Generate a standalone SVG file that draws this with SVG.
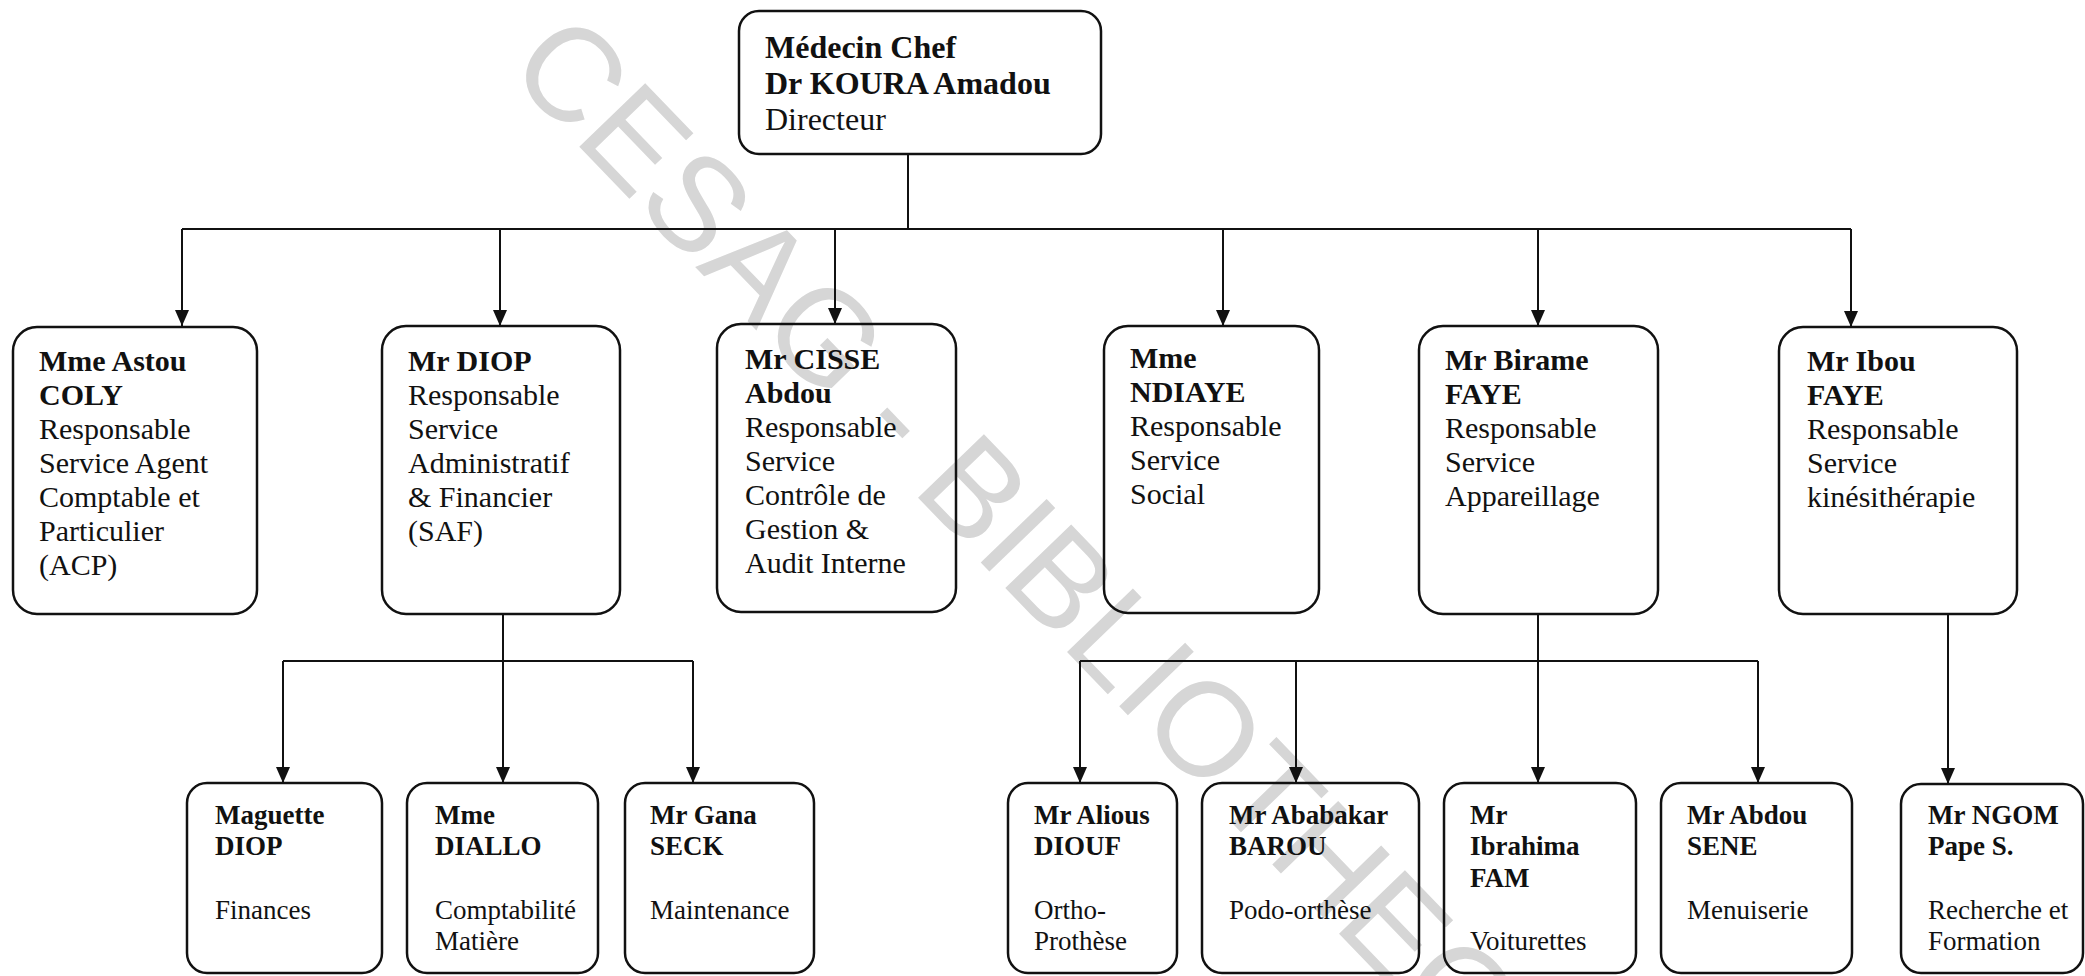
<svg xmlns="http://www.w3.org/2000/svg" width="2085" height="976" viewBox="0 0 2085 976">
<style>
.bg{fill:#ffffff}
.box{fill:none;stroke:#111;stroke-width:2.5}
.ln{fill:none;stroke:#111;stroke-width:2}
.arr{fill:none;stroke:#111;stroke-width:2;marker-end:url(#ah)}
text{font-family:"Liberation Serif","Times New Roman",serif;fill:#111}
.t1{font-size:32px}
.t2{font-size:30px}
.t3{font-size:27px}
.b{font-weight:bold}
.wm{font-family:"Liberation Sans",Arial,sans-serif;font-size:133px;fill:#d6d6d6}
</style>
<defs>
<marker id="ah" markerUnits="userSpaceOnUse" markerWidth="16" markerHeight="18" refX="16" refY="7" orient="auto" viewBox="0 0 16 14">
<path d="M0,0 L16,7 L0,14 Z" fill="#111"/>
</marker>
</defs>
<rect class="bg" x="0" y="0" width="2085" height="976"/>
<g id="watermark">
<text class="wm" transform="translate(505,70) rotate(46)" x="0" y="0">CESAG - BIBLIOTHEQUE</text>
</g>
<g id="connectors">
<path class="ln" d="M908,154 V229 M182,229 H1851"/>
<path class="arr" d="M182,229 V326"/>
<path class="arr" d="M500,229 V326"/>
<path class="arr" d="M835,229 V324"/>
<path class="arr" d="M1223,229 V326"/>
<path class="arr" d="M1538,229 V326"/>
<path class="arr" d="M1851,229 V327"/>
<path class="ln" d="M503,614 V661 M283,661 H693"/>
<path class="arr" d="M283,661 V783"/>
<path class="arr" d="M503,661 V783"/>
<path class="arr" d="M693,661 V783"/>
<path class="ln" d="M1538,614 V661 M1080,661 H1758"/>
<path class="arr" d="M1080,661 V783"/>
<path class="arr" d="M1296,661 V783"/>
<path class="arr" d="M1538,661 V783"/>
<path class="arr" d="M1758,661 V783"/>
<path class="arr" d="M1948,614 V784"/>
</g>
<g id="n-directeur">
<rect class="box" x="739" y="11" width="362" height="143" rx="20"/>
<text class="t1" x="765"><tspan class="b" x="765" y="58">Médecin Chef</tspan><tspan class="b" x="765" y="94">Dr KOURA Amadou</tspan><tspan x="765" y="130">Directeur</tspan></text>
</g>
<g id="n-acp">
<rect class="box" x="13" y="327" width="244" height="287" rx="24"/>
<text class="t2"><tspan class="b" x="39" y="371">Mme Astou</tspan><tspan class="b" x="39" y="405">COLY</tspan><tspan x="39" y="439">Responsable</tspan><tspan x="39" y="473">Service Agent</tspan><tspan x="39" y="507">Comptable et</tspan><tspan x="39" y="541">Particulier</tspan><tspan x="39" y="575">(ACP)</tspan></text>
</g>
<g id="n-saf">
<rect class="box" x="382" y="326" width="238" height="288" rx="24"/>
<text class="t2"><tspan class="b" x="408" y="371">Mr DIOP</tspan><tspan x="408" y="405">Responsable</tspan><tspan x="408" y="439">Service</tspan><tspan x="408" y="473">Administratif</tspan><tspan x="408" y="507">&amp; Financier</tspan><tspan x="408" y="541">(SAF)</tspan></text>
</g>
<g id="n-cgai">
<rect class="box" x="717" y="324" width="239" height="288" rx="24"/>
<text class="t2"><tspan class="b" x="745" y="369">Mr CISSE</tspan><tspan class="b" x="745" y="403">Abdou</tspan><tspan x="745" y="437">Responsable</tspan><tspan x="745" y="471">Service</tspan><tspan x="745" y="505">Contrôle de</tspan><tspan x="745" y="539">Gestion &amp;</tspan><tspan x="745" y="573">Audit Interne</tspan></text>
</g>
<g id="n-social">
<rect class="box" x="1104" y="326" width="215" height="287" rx="24"/>
<text class="t2"><tspan class="b" x="1130" y="368">Mme</tspan><tspan class="b" x="1130" y="402">NDIAYE</tspan><tspan x="1130" y="436">Responsable</tspan><tspan x="1130" y="470">Service</tspan><tspan x="1130" y="504">Social</tspan></text>
</g>
<g id="n-appareillage">
<rect class="box" x="1419" y="326" width="239" height="288" rx="24"/>
<text class="t2"><tspan class="b" x="1445" y="370">Mr Birame</tspan><tspan class="b" x="1445" y="404">FAYE</tspan><tspan x="1445" y="438">Responsable</tspan><tspan x="1445" y="472">Service</tspan><tspan x="1445" y="506">Appareillage</tspan></text>
</g>
<g id="n-kine">
<rect class="box" x="1779" y="327" width="238" height="287" rx="24"/>
<text class="t2"><tspan class="b" x="1807" y="371">Mr Ibou</tspan><tspan class="b" x="1807" y="405">FAYE</tspan><tspan x="1807" y="439">Responsable</tspan><tspan x="1807" y="473">Service</tspan><tspan x="1807" y="507">kinésithérapie</tspan></text>
</g>
<g id="n-finances">
<rect class="box" x="187" y="783" width="195" height="190" rx="20"/>
<text class="t3"><tspan class="b" x="215" y="824">Maguette</tspan><tspan class="b" x="215" y="855">DIOP</tspan><tspan x="215" y="919">Finances</tspan></text>
</g>
<g id="n-matiere">
<rect class="box" x="407" y="783" width="191" height="190" rx="20"/>
<text class="t3"><tspan class="b" x="435" y="824">Mme</tspan><tspan class="b" x="435" y="855">DIALLO</tspan><tspan x="435" y="919">Comptabilité</tspan><tspan x="435" y="950">Matière</tspan></text>
</g>
<g id="n-maintenance">
<rect class="box" x="625" y="783" width="189" height="190" rx="20"/>
<text class="t3"><tspan class="b" x="650" y="824">Mr Gana</tspan><tspan class="b" x="650" y="855">SECK</tspan><tspan x="650" y="919">Maintenance</tspan></text>
</g>
<g id="n-ortho">
<rect class="box" x="1008" y="783" width="169" height="190" rx="20"/>
<text class="t3"><tspan class="b" x="1034" y="824">Mr Alious</tspan><tspan class="b" x="1034" y="855">DIOUF</tspan><tspan x="1034" y="919">Ortho-</tspan><tspan x="1034" y="950">Prothèse</tspan></text>
</g>
<g id="n-podo">
<rect class="box" x="1202" y="783" width="217" height="190" rx="20"/>
<text class="t3"><tspan class="b" x="1229" y="824">Mr Ababakar</tspan><tspan class="b" x="1229" y="855">BAROU</tspan><tspan x="1229" y="919">Podo-orthèse</tspan></text>
</g>
<g id="n-voiturettes">
<rect class="box" x="1444" y="783" width="192" height="190" rx="20"/>
<text class="t3"><tspan class="b" x="1470" y="824">Mr</tspan><tspan class="b" x="1470" y="855">Ibrahima</tspan><tspan class="b" x="1470" y="887">FAM</tspan><tspan x="1470" y="950">Voiturettes</tspan></text>
</g>
<g id="n-menuiserie">
<rect class="box" x="1661" y="783" width="191" height="190" rx="20"/>
<text class="t3"><tspan class="b" x="1687" y="824">Mr Abdou</tspan><tspan class="b" x="1687" y="855">SENE</tspan><tspan x="1687" y="919">Menuiserie</tspan></text>
</g>
<g id="n-recherche">
<rect class="box" x="1901" y="784" width="182" height="189" rx="20"/>
<text class="t3"><tspan class="b" x="1928" y="824">Mr NGOM</tspan><tspan class="b" x="1928" y="855">Pape S.</tspan><tspan x="1928" y="919">Recherche et</tspan><tspan x="1928" y="950">Formation</tspan></text>
</g>
</svg>
